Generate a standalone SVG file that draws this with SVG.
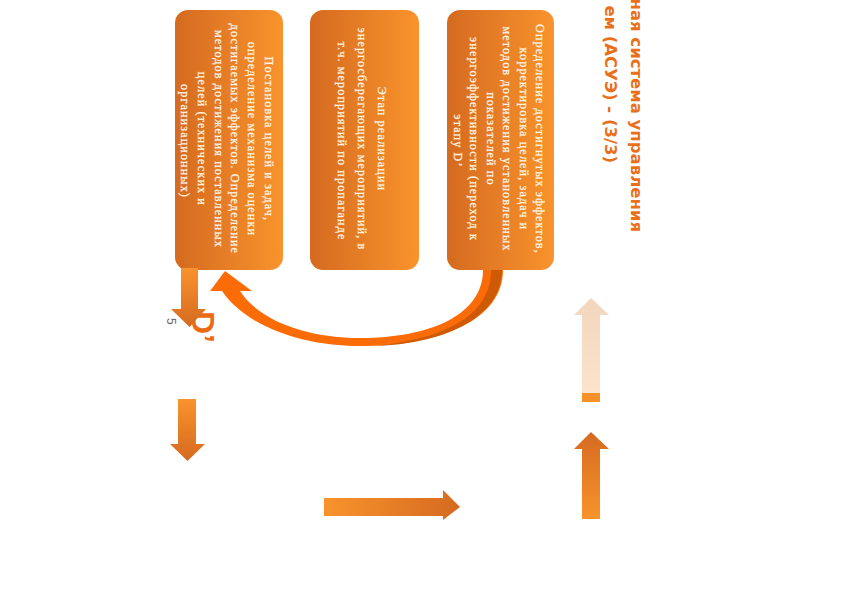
<svg xmlns="http://www.w3.org/2000/svg" width="842" height="595" viewBox="0 0 842 595">
<defs>
<linearGradient id="gBox" x1="0" y1="0" x2="1" y2="0">
<stop offset="0" stop-color="#d56a20"/><stop offset="1" stop-color="#f9932c"/>
</linearGradient>
<linearGradient id="gDown" x1="0" y1="0" x2="0" y2="1">
<stop offset="0" stop-color="#f9932c"/><stop offset="1" stop-color="#d56a20"/>
</linearGradient>
<linearGradient id="gUp" x1="0" y1="0" x2="0" y2="1">
<stop offset="0" stop-color="#d56a20"/><stop offset="1" stop-color="#f9932c"/>
</linearGradient>
<linearGradient id="gRight" x1="0" y1="0" x2="1" y2="0">
<stop offset="0" stop-color="#f9932c"/><stop offset="1" stop-color="#d56a20"/>
</linearGradient>
<linearGradient id="gFaded" x1="0" y1="0" x2="0" y2="1">
<stop offset="0" stop-color="#f2d6bd"/><stop offset="1" stop-color="#fde3cc"/>
</linearGradient>
</defs>
<style>
.box{fill:url(#gBox);}
.bt{font-family:"Liberation Serif","DejaVu Serif",serif;font-size:12.2px;letter-spacing:1.1px;fill:#fff4e0;stroke:#fff4e0;stroke-width:0.25px;text-anchor:middle;}
.title{font-family:"DejaVu Sans","Liberation Sans",sans-serif;font-weight:bold;font-size:16.5px;fill:#ea6f1a;text-anchor:end;}
</style>
<rect width="842" height="595" fill="#ffffff"/>

<g id="title">
<text class="title" transform="translate(631,232) rotate(90)">ная система управления</text>
<text class="title" transform="translate(605,163) rotate(90)">ем (АСУЭ) - (3/3)</text>
</g>

<g id="node-plan">
<rect class="box" x="175" y="10" width="108" height="260" rx="13"/>
<text class="bt" transform="translate(265,141) rotate(90)">
<tspan x="0" y="0">Постановка целей и задач,</tspan>
<tspan x="0" y="16.8">определение механизма оценки</tspan>
<tspan x="0" y="33.6">достигаемых эффектов. Определение</tspan>
<tspan x="0" y="50.4">методов достижения поставленных</tspan>
<tspan x="0" y="67.2">целей (технических и</tspan>
<tspan x="0" y="84">организационных)</tspan>
</text>
</g>

<g id="node-do">
<rect class="box" x="310" y="10" width="109" height="260" rx="13"/>
<text class="bt" transform="translate(378,141) rotate(90)">
<tspan x="0" y="0">Этап реализации</tspan>
<tspan x="0" y="20">энергосберегающих мероприятий, в</tspan>
<tspan x="0" y="40">т.ч. мероприятий по пропаганде</tspan>
</text>
</g>

<g id="node-check">
<rect class="box" x="447" y="10" width="107" height="260" rx="13"/>
<text class="bt" transform="translate(536,141) rotate(90)">
<tspan x="0" y="0">Определение достигнутых эффектов,</tspan>
<tspan x="0" y="16.5">корректировка целей, задач и</tspan>
<tspan x="0" y="33">методов достижения установленных</tspan>
<tspan x="0" y="49.5">показателей по</tspan>
<tspan x="0" y="66">энергоэффективности (переход к</tspan>
<tspan x="0" y="82.5">этапу D’</tspan>
</text>
</g>

<g id="labels">
<text transform="translate(167,318) rotate(90)" font-family="Liberation Sans, Arial, sans-serif" font-size="12" fill="#666666">5</text>
<text transform="translate(192,311) rotate(90)" font-family="Liberation Sans, Arial, sans-serif" font-weight="bold" font-size="32" fill="#ec6a12">D’</text>
</g>

<g id="connectors">
<polygon fill="url(#gDown)" points="181,268 198,268 198,309 206,309 189.5,327 171,309 181,309"/>
<path fill="#fb6c06" d="M483,270 L503,270 C503,320 440,346 360,346 C300,346 245,325 222,291 L210,291 L225,271 L252,291 L240,291 C260,322 310,338 360,338 C430,338 483,315 483,270 Z"/>
<path fill="#cf5a05" d="M491,270 L502,270 C502,319 440,345 372,346 C440,340 491,318 491,270 Z"/>
<polygon fill="url(#gDown)" points="178,399 196,399 196,444 205,444 187.5,461 170,444 178,444"/>
<polygon fill="url(#gRight)" points="324,498 443,498 443,490 460,507 443,520 443,516 324,516"/>
<polygon fill="url(#gUp)" points="591,432 609,449 600,449 600,519 582,519 582,449 574,449"/>
<polygon fill="url(#gFaded)" points="591,298 609,315 600,315 600,393 582,393 582,315 574,315"/>
<rect x="582" y="393" width="18" height="9" fill="#f7922b"/>
</g>
</svg>
